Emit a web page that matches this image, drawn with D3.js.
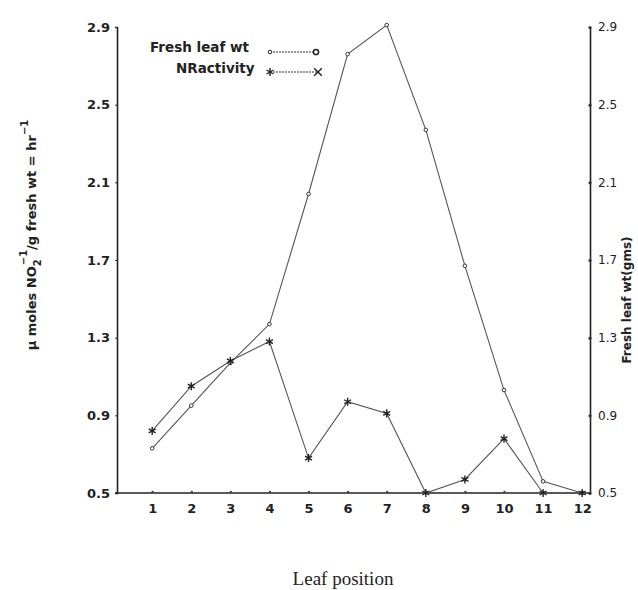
<!DOCTYPE html>
<html>
<head>
<meta charset="utf-8">
<script src="https://cdn.jsdelivr.net/npm/d3@7"></script>
<style>
  body { margin: 0; background: #fff; }
  text { font-family: "DejaVu Sans", sans-serif; fill: #222; }
</style>
</head>
<body>
<div id="chart"></div>
<script>
// data
var leafPos = [1, 2, 3, 4, 5, 6, 7, 8, 9, 10, 11, 12];
var xTickLabels = ["1", "2", "3", "4", "5", "6", "7", "8", "9", "10", "11", "12"];
var freshWt = [0.73, 0.95, 1.17, 1.37, 2.04, 2.76, 2.91, 2.37, 1.67, 1.03, 0.56, 0.5];
var nrActivity = [0.82, 1.05, 1.18, 1.28, 0.68, 0.97, 0.91, 0.5, 0.57, 0.78, 0.5, 0.5];
var yTicks = [0.5, 0.9, 1.3, 1.7, 2.1, 2.5, 2.9];

// size
var width = 638;
var height = 590;
var plotLeft = 117;
var plotRight = 590;
var plotTop = 27;
var plotBot = 493;

var svg = d3
  .select("#chart")
  .append("svg")
  .attr("width", width)
  .attr("height", height);

var xScale = d3.scaleLinear().domain([0.1, 12.2]).range([plotLeft, plotRight]);
var yScale = d3.scaleLinear().domain([0.5, 2.9]).range([plotBot, plotTop]);

// left axis
var yAxisL = d3.axisLeft(yScale)
  .tickValues(yTicks)
  .tickSize(2)
  .tickPadding(5)
  .tickFormat(d3.format(".1f"));

svg.append("g")
  .attr("class", "yAxis")
  .attr("transform", "translate(" + plotLeft + ",0)")
  .call(yAxisL);

// right axis
var yAxisR = d3.axisRight(yScale)
  .tickValues(yTicks)
  .tickSize(0)
  .tickPadding(8)
  .tickFormat(d3.format(".1f"));

svg.append("g")
  .attr("class", "yAxisR")
  .attr("transform", "translate(" + plotRight + ",0)")
  .call(yAxisR);

svg.select(".yAxisR").selectAll(".tick")
  .append("circle")
  .attr("r", 1.6)
  .attr("fill", "#333");

// bottom axis
var xAxis = d3.axisBottom(xScale)
  .tickValues(leafPos)
  .tickSize(0)
  .tickPadding(11)
  .tickFormat(function(d, i) { return xTickLabels[i]; });

svg.append("g")
  .attr("class", "xAxis")
  .attr("transform", "translate(0," + plotBot + ")")
  .call(xAxis);

svg.select(".xAxis").selectAll(".tick")
  .append("circle")
  .attr("cy", -1)
  .attr("r", 1.2)
  .attr("fill", "#444");

svg.selectAll(".domain")
  .attr("stroke", "#222")
  .attr("stroke-width", 1.6);

svg.selectAll(".tick line").attr("stroke", "#333");
svg.selectAll(".tick text")
  .attr("font-size", 13)
  .attr("font-weight", "bold")
  .attr("fill", "#222");

svg.select(".yAxisR").selectAll(".tick text")
  .attr("font-size", 12)
  .attr("font-weight", "normal");

svg.select(".xAxis").select(".domain").attr("d", "M" + (plotLeft - 2) + ",0H" + plotRight);

// lines
var line = function(vals) {
  return d3.line()
    .x(function(d, i) { return xScale(leafPos[i]); })
    .y(function(d) { return yScale(d); })(vals);
};

svg.append("path")
  .attr("d", line(freshWt))
  .attr("fill", "none")
  .attr("stroke", "#555")
  .attr("stroke-width", 1.1);

svg.append("path")
  .attr("d", line(nrActivity))
  .attr("fill", "none")
  .attr("stroke", "#555")
  .attr("stroke-width", 1.1);

// points
svg.selectAll(".fwPt")
  .data(freshWt)
  .enter()
  .append("circle")
  .attr("class", "fwPt")
  .attr("cx", function(d, i) { return xScale(leafPos[i]); })
  .attr("cy", function(d) { return yScale(d); })
  .attr("r", 1.8)
  .attr("fill", "#fff")
  .attr("stroke", "#333")
  .attr("stroke-width", 1);

var star = d3.symbol().type(d3.symbolAsterisk).size(45);

svg.selectAll(".nrPt")
  .data(nrActivity)
  .enter()
  .append("path")
  .attr("class", "nrPt")
  .attr("d", star)
  .attr("transform", function(d, i) {
    return "translate(" + xScale(leafPos[i]) + "," + yScale(d) + ")";
  })
  .attr("fill", "none")
  .attr("stroke", "#222")
  .attr("stroke-width", 1.4);

// legend
var legend = svg.append("g").attr("class", "legend");

legend.append("text")
  .attr("x", 150)
  .attr("y", 52)
  .attr("font-size", 13.5)
  .attr("font-weight", "bold")
  .text("Fresh leaf wt");

legend.append("line")
  .attr("x1", 270).attr("x2", 317)
  .attr("y1", 52).attr("y2", 52)
  .attr("stroke", "#333")
  .attr("stroke-width", 1.2)
  .attr("stroke-dasharray", "2,1");

legend.append("circle").attr("cx", 270).attr("cy", 52).attr("r", 1.8)
  .attr("fill", "#fff").attr("stroke", "#222");
legend.append("circle").attr("cx", 316).attr("cy", 52).attr("r", 2.6)
  .attr("fill", "#fff").attr("stroke", "#222").attr("stroke-width", 1.5);

legend.append("text")
  .attr("x", 176)
  .attr("y", 73)
  .attr("font-size", 13.5)
  .attr("font-weight", "bold")
  .text("NRactivity");

legend.append("line")
  .attr("x1", 270).attr("x2", 318)
  .attr("y1", 72).attr("y2", 72)
  .attr("stroke", "#333")
  .attr("stroke-width", 1.2)
  .attr("stroke-dasharray", "2,1");

legend.append("path").attr("d", star)
  .attr("transform", "translate(270,72)")
  .attr("fill", "none").attr("stroke", "#222").attr("stroke-width", 1.4);
legend.append("path").attr("d", d3.symbol().type(d3.symbolX).size(40))
  .attr("transform", "translate(318,72)")
  .attr("fill", "none").attr("stroke", "#222").attr("stroke-width", 1.4);

// axis titles
var yTitle = svg.append("text")
  .attr("transform", "translate(36," + 235 + ")rotate(-90)")
  .attr("text-anchor", "middle")
  .attr("font-size", 13)
  .attr("font-weight", "bold");

yTitle.append("tspan").text("\u03bc moles NO");
yTitle.append("tspan").attr("dy", 5).attr("font-size", 10).text("2");
yTitle.append("tspan").attr("dy", -14).attr("dx", -6).attr("font-size", 10).text("\u22121");
yTitle.append("tspan").attr("dy", 9).text("/g  fresh  wt = hr");
yTitle.append("tspan").attr("dy", -8).attr("font-size", 10).text("\u22121");

svg.append("text")
  .attr("transform", "translate(631,300)rotate(-90)")
  .attr("text-anchor", "middle")
  .attr("font-size", 12)
  .attr("font-weight", "bold")
  .text("Fresh leaf wt(gms)");

svg.append("text")
  .attr("x", 343)
  .attr("y", 585)
  .attr("text-anchor", "middle")
  .style("font-family", "'Liberation Serif', 'DejaVu Serif', serif")
  .attr("font-size", 19)
  .attr("fill", "#222")
  .text("Leaf position");
</script>
</body>
</html>
